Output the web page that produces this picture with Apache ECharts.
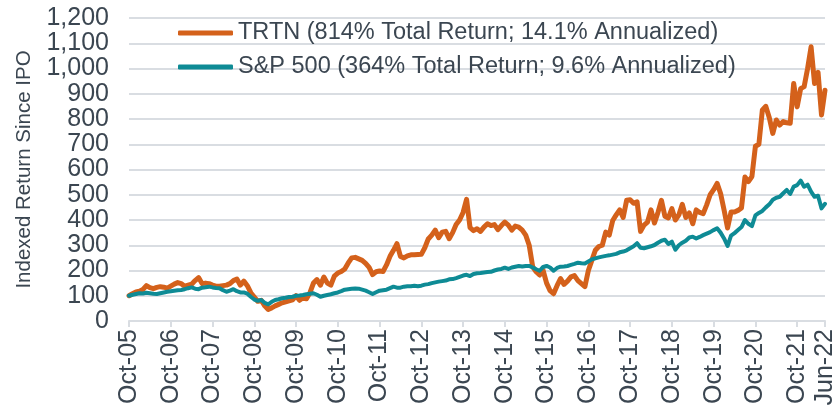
<!DOCTYPE html>
<html>
<head>
<meta charset="utf-8">
<script src="https://cdn.jsdelivr.net/npm/echarts@6/dist/echarts.min.js"></script>
<style>
html,body{margin:0;padding:0;background:#fff;}
#chart{width:839px;height:412px;}
</style>
</head>
<body>
<div id="chart"></div>
<script>
// Monthly index values, Oct-05 .. Jun-22 (201 months)
const startYear = 2005, startMonth = 9; // October (0-based)
const trtnName = 'TRTN (814% Total Return; 14.1% Annualized)';
const spxName = 'S&P 500 (364% Total Return; 9.6% Annualized)';
const trtnValues = [
100,108,115,118,125,140,132,128,133,136,134,130,138,146,152,148,138,142,146,160,
172,148,150,148,142,138,138,140,142,148,160,166,142,158,140,112,95,78,82,60,
46,52,60,66,72,76,80,84,100,82,92,88,112,150,164,142,174,150,142,178,
190,196,206,230,250,252,246,240,228,212,184,195,198,196,222,256,280,306,256,250,
258,262,262,263,264,290,325,340,360,330,352,355,326,350,382,400,430,482,370,358,
365,355,372,385,378,382,362,378,392,380,360,376,372,360,340,300,215,195,182,200,
150,120,108,140,168,145,158,175,180,160,148,136,200,240,280,295,300,352,340,398,
420,440,410,478,480,466,472,355,380,392,440,388,430,478,415,408,445,400,420,462,
410,428,385,440,430,425,460,500,520,545,505,440,368,432,432,438,448,570,552,572,
692,700,836,850,805,743,796,776,790,785,783,941,848,920,928,1000,1086,941,985,816,
914];
const spxValues = [
100,104,107,110,109,112,110,108,107,110,113,116,118,120,122,123,126,130,133,128,
126,132,134,136,133,131,130,122,116,120,126,118,113,113,108,96,85,80,83,72,
66,76,83,86,90,92,95,96,100,101,103,106,108,110,104,96,100,103,106,110,
113,118,124,126,128,129,128,124,120,114,107,114,120,122,124,130,136,132,132,136,
138,138,140,138,140,144,146,150,153,156,158,160,165,166,170,175,180,183,178,186,
189,190,192,194,195,200,204,206,211,206,212,215,218,216,218,218,212,205,199,214,
218,212,199,210,215,216,218,222,226,231,229,228,236,244,248,252,255,258,260,263,
266,272,275,280,288,296,308,290,288,292,296,301,310,318,322,305,314,282,300,310,
318,331,334,327,333,340,346,352,360,367,350,327,297,338,348,360,372,400,385,376,
418,428,436,450,462,480,488,492,506,519,503,532,538,556,532,540,512,492,496,446,
464];
const monthNames = ['Jan','Feb','Mar','Apr','May','Jun','Jul','Aug','Sep','Oct','Nov','Dec'];
const categories = trtnValues.map((_, i) => {
  const m = startMonth + i;
  const y = startYear + Math.floor(m / 12);
  return monthNames[m % 12] + '-' + String(y % 100).padStart(2, '0');
});
const lastIdx = categories.length - 1;
const showTick = (idx) => idx % 12 === 0 || idx === lastIdx;

const textColor = '#3b4651';
const gridColor = '#d9dde2';
const font = 'Liberation Sans, Arial, sans-serif';

const chart = echarts.init(document.getElementById('chart'), null, {renderer: 'canvas'});
chart.setOption({
  animation: false,
  backgroundColor: '#ffffff',
  grid: {left: 129, right: 14, top: 18, bottom: 91, containLabel: false},
  legend: {
    orient: 'vertical',
    left: 178,
    top: 20,
    padding: 0,
    itemWidth: 55,
    itemHeight: 5,
    itemGap: 8,
    icon: 'roundRect',
    textStyle: {fontSize: 23.5, color: textColor, fontFamily: font, lineHeight: 26, padding: [0,0,0,0]},
    data: [trtnName, spxName]
  },
  xAxis: {
    type: 'category',
    data: categories,
    boundaryGap: false,
    axisLine: {show: true, lineStyle: {color: gridColor, width: 2}},
    axisTick: {show: true, interval: (idx) => showTick(idx), length: 6, lineStyle: {color: gridColor, width: 2}},
    axisLabel: {
      interval: (idx) => showTick(idx),
      rotate: 90,
      margin: 8,
      fontSize: 25,
      color: textColor,
      fontFamily: font,
      hideOverlap: false
    },
    splitLine: {show: false}
  },
  yAxis: {
    type: 'value',
    min: 0,
    max: 1200,
    interval: 100,
    name: 'Indexed Return Since IPO',
    nameLocation: 'middle',
    nameRotate: 90,
    nameGap: 94,
    nameTextStyle: {fontSize: 20.5, color: textColor, fontFamily: font},
    axisLine: {show: false},
    axisTick: {show: false},
    axisLabel: {
      fontSize: 25,
      color: textColor,
      fontFamily: font,
      margin: 20,
      formatter: (v) => v.toLocaleString('en-US')
    },
    splitLine: {show: true, lineStyle: {color: gridColor, width: 2}}
  },
  series: [
    {
      name: trtnName,
      type: 'line',
      data: trtnValues,
      symbol: 'none',
      showSymbol: false,
      lineStyle: {color: '#d4611b', width: 5, join: 'round', cap: 'round'},
      itemStyle: {color: '#d4611b'},
      z: 2
    },
    {
      name: spxName,
      type: 'line',
      data: spxValues,
      symbol: 'none',
      showSymbol: false,
      lineStyle: {color: '#0e8b95', width: 4, join: 'round', cap: 'round'},
      itemStyle: {color: '#0e8b95'},
      z: 3
    }
  ]
});
</script>
</body>
</html>
